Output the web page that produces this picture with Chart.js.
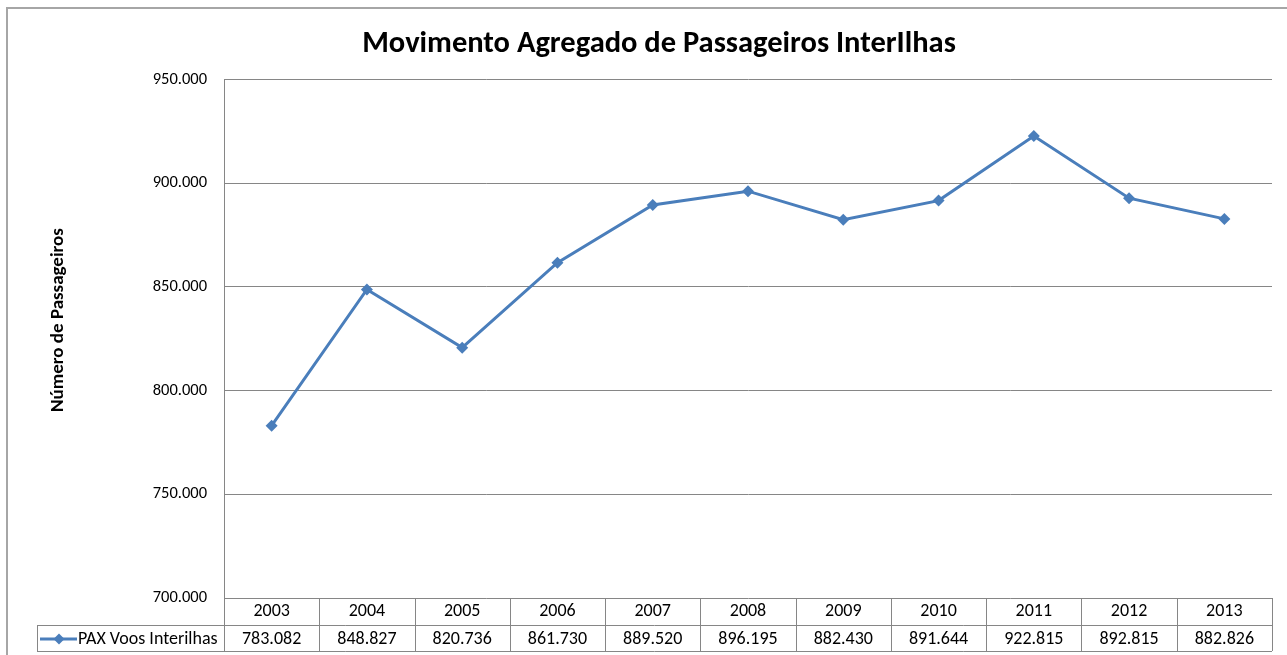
<!DOCTYPE html>
<html>
<head>
<meta charset="utf-8">
<script src="https://cdn.jsdelivr.net/npm/chart.js@4/dist/chart.umd.min.js"></script>
<style>
  body { margin: 0; background: #fff; }
  #wrap { position: relative; width: 1287px; height: 655px; }
</style>
</head>
<body>
<div id="wrap"><canvas id="chart" width="1287" height="655"></canvas></div>
<script>
// data
const years = ['2003', '2004', '2005', '2006', '2007', '2008', '2009', '2010', '2011', '2012', '2013'];
const paxValues = [783082, 848827, 820736, 861730, 889520, 896195, 882430, 891644, 922815, 892815, 882826];
const seriesName = 'PAX Voos Interilhas';
const yTitle = 'Número de Passageiros';
const yMin = 700000;
const yMax = 950000;
const yStep = 50000;

const FONT = 'Carlito, Lato, sans-serif';
const BLUE = '#4a7ebb';
const GRID = '#868686';

function fmt(v) {
  return String(Math.round(v)).replace(/\B(?=(\d{3})+(?!\d))/g, '.');
}

// white background, outer frame and the vertical axis title
const framePlugin = {
  id: 'frame',
  beforeDraw(chart) {
    const ctx = chart.ctx;
    ctx.save();
    ctx.fillStyle = '#fff';
    ctx.fillRect(0, 0, chart.width, chart.height);
    ctx.strokeStyle = '#a6a6a6';
    ctx.lineWidth = 2;
    ctx.strokeRect(7, 8, chart.width + 20, chart.height + 20);
    ctx.restore();
  },
  afterDraw(chart) {
    const ctx = chart.ctx;
    ctx.save();
    ctx.translate(58, 320);
    ctx.rotate(-Math.PI / 2);
    ctx.fillStyle = '#000';
    ctx.font = 'bold 19px ' + FONT;
    ctx.textAlign = 'center';
    ctx.textBaseline = 'middle';
    ctx.fillText(yTitle, 0, 0);
    ctx.restore();
  }
};

// data table under the plot
const tablePlugin = {
  id: 'dataTable',
  afterDraw(chart) {
    const ctx = chart.ctx;
    const xs = chart.scales.x;
    const area = chart.chartArea;
    const n = years.length;
    const colW = xs.width / n;
    const top = area.bottom;
    const mid = top + 27;
    const bot = top + 53;
    const legendLeft = 37;

    ctx.save();
    ctx.strokeStyle = GRID;
    ctx.lineWidth = 1;
    ctx.beginPath();
    ctx.moveTo(legendLeft, mid + 0.5); ctx.lineTo(area.right, mid + 0.5);
    ctx.moveTo(legendLeft, bot + 0.5); ctx.lineTo(area.right, bot + 0.5);
    ctx.moveTo(legendLeft + 0.5, mid); ctx.lineTo(legendLeft + 0.5, bot);
    ctx.moveTo(Math.round(area.left) + 0.5, top); ctx.lineTo(Math.round(area.left) + 0.5, bot);
    for (let i = 0; i < n; i++) {
      const xr = Math.round(xs.getPixelForValue(i) + colW / 2) + 0.5;
      ctx.moveTo(xr, top); ctx.lineTo(xr, bot);
    }
    ctx.stroke();

    // values row
    ctx.fillStyle = '#000';
    ctx.font = '18px ' + FONT;
    ctx.textAlign = 'center';
    ctx.textBaseline = 'middle';
    const vy = (mid + bot) / 2 + 1;
    paxValues.forEach((v, i) => {
      ctx.fillText(fmt(v), xs.getPixelForValue(i), vy);
    });

    // legend key
    ctx.strokeStyle = BLUE;
    ctx.lineWidth = 3;
    ctx.beginPath();
    ctx.moveTo(40, vy); ctx.lineTo(77, vy);
    ctx.stroke();
    ctx.fillStyle = BLUE;
    ctx.beginPath();
    ctx.moveTo(59, vy - 5.5); ctx.lineTo(64.5, vy); ctx.lineTo(59, vy + 5.5); ctx.lineTo(53.5, vy);
    ctx.closePath();
    ctx.fill();
    ctx.fillStyle = '#000';
    ctx.textAlign = 'left';
    ctx.fillText(seriesName, 78, vy);
    ctx.restore();
  }
};

new Chart(document.getElementById('chart'), {
  type: 'line',
  data: {
    labels: years,
    datasets: [{
      label: seriesName,
      data: paxValues,
      borderColor: BLUE,
      backgroundColor: BLUE,
      borderWidth: 3,
      pointStyle: 'rectRot',
      pointRadius: 6,
      pointBorderWidth: 0,
      tension: 0
    }]
  },
  options: {
    responsive: false,
    animation: false,
    devicePixelRatio: 1,
    layout: { padding: { top: 8, left: 46, right: 15, bottom: 0 } },
    plugins: {
      legend: { display: false },
      tooltip: { enabled: false },
      title: {
        display: true,
        text: 'Movimento Agregado de Passageiros InterIlhas',
        color: '#000',
        font: { family: FONT, size: 30.5, weight: 'bold' },
        padding: { top: 18, bottom: 17 }
      }
    },
    scales: {
      x: {
        offset: true,
        grid: { display: false, drawTicks: false },
        border: { display: false },
        ticks: { color: '#000', font: { family: FONT, size: 18 }, padding: 3, maxRotation: 0 },
        afterFit(scale) { scale.height = 57; }
      },
      y: {
        min: yMin,
        max: yMax,
        grid: { color: GRID, drawTicks: false },
        border: { display: true, color: GRID },
        ticks: {
          stepSize: yStep,
          color: '#000',
          font: { family: FONT, size: 16.5 },
          padding: 17,
          callback: (v) => fmt(v)
        },
        afterFit(scale) { scale.width = 224 - 46; }
      }
    }
  },
  plugins: [framePlugin, tablePlugin]
});
</script>
</body>
</html>
